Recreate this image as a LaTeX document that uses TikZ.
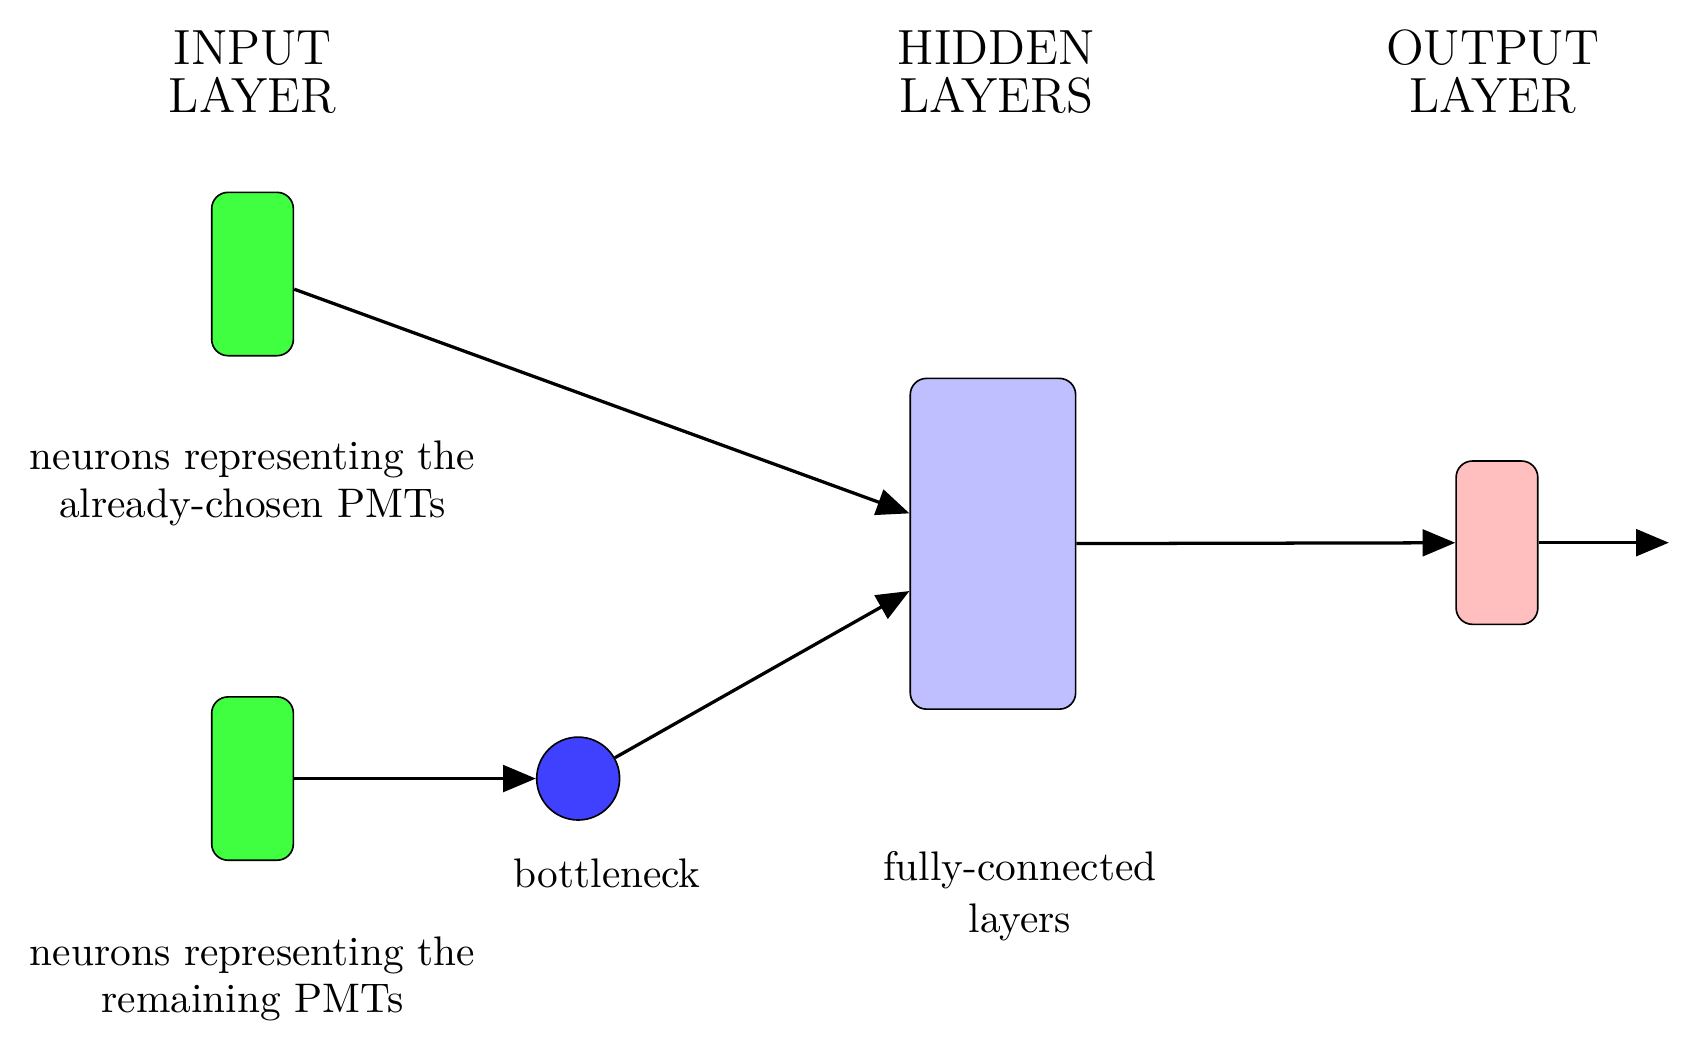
\documentclass[tikz,border=0pt]{standalone}
\usetikzlibrary{arrows.meta}
\begin{document}
\begin{tikzpicture}[x=0.26316pt,y=-0.26316pt,
  box/.style={draw=black, rounded corners=4pt, minimum width=20pt, minimum height=40pt, inner sep=0pt},
  inbox/.style={box, fill=green!75},
  hidbox/.style={box, fill=blue!25, minimum width=40.5pt, minimum height=81pt},
  outbox/.style={box, fill=red!25},
  bneck/.style={circle, draw=black, fill=blue!75, minimum size=20.3pt, inner sep=0pt},
  title/.style={font=\fontsize{12.1}{11.7}\selectfont, align=center, inner sep=0pt},
  lbl/.style={font=\fontsize{10.12}{11.7}\selectfont, align=center, inner sep=0pt},
  conn/.style={-{Triangle[length=8pt,width=6.5pt]}, line width=0.8pt},
]
\useasboundingbox (0,0) rectangle (1568,978);
\node[inbox] (in1) at (235,255) {};
\node[inbox] (in2) at (235,724.5) {};
\node[bneck] (bn) at (538,724.5) {};
\node[hidbox] (hid) at (924,506) {};
\node[outbox] (out) at (1393,505) {};
\coordinate (end) at (1553,505);
\draw[conn] (in1) -- (hid);
\draw[conn] (bn) -- (hid);
\draw[conn] (in2) -- (bn);
\draw[conn] (hid) -- (out);
\draw[conn] (out) -- (end);
\node[title] (tin) at (235,67) {INPUT\\LAYER};
\node[title] (thid) at (927,67) {HIDDEN\\LAYERS};
\node[title] (tout) at (1389,67) {OUTPUT\\LAYER};
\node[lbl] (lin1) at (235,450) {neurons representing the\\already-chosen PMTs};
\node[lbl] (lin2) at (235,911) {neurons representing the\\remaining PMTs};
\node[lbl] (lbn) at (565,813) {bottleneck};
\node[lbl] (lhid) at (949,834) {fully-connected\\[1.2pt]layers};
\end{tikzpicture}
\end{document}
